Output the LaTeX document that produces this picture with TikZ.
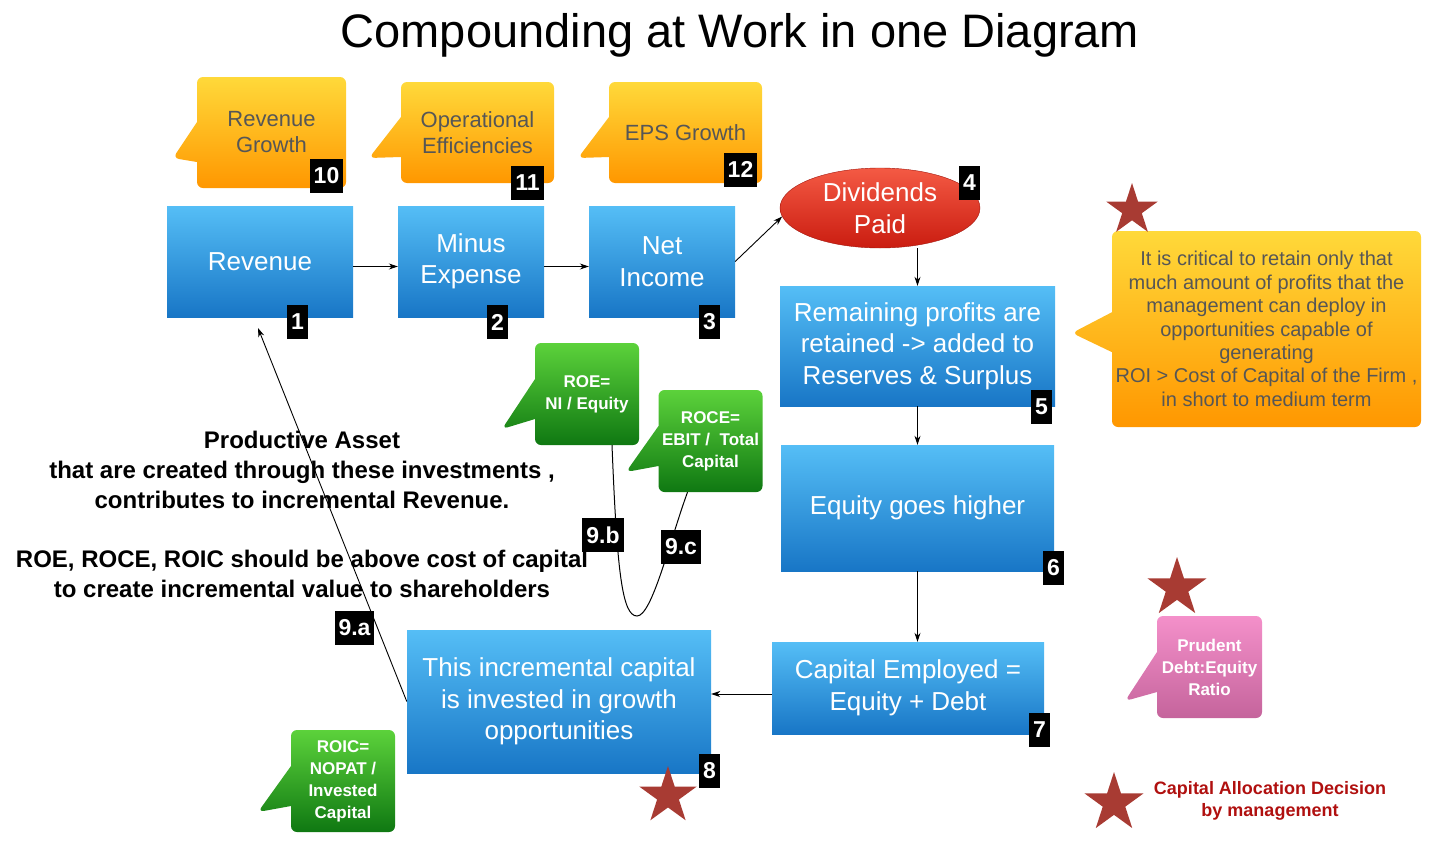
\documentclass[tikz,border=0pt]{standalone}
\usepackage{fontspec}
\setmainfont{Liberation Sans}
\usetikzlibrary{arrows.meta,shapes.geometric,shapes.callouts}
\definecolor{boxtop}{HTML}{55BEF6}
\definecolor{boxbot}{HTML}{1876C6}
\definecolor{calltop}{HTML}{FFD93A}
\definecolor{callbot}{HTML}{FF9700}
\definecolor{calltext}{HTML}{565656}
\definecolor{greentop}{HTML}{5CD23B}
\definecolor{greenbot}{HTML}{0F7812}
\definecolor{pinktop}{HTML}{F490CA}
\definecolor{pinkbot}{HTML}{C5649C}
\definecolor{divtop}{HTML}{F45A44}
\definecolor{divbot}{HTML}{CA1C10}
\definecolor{starred}{HTML}{A83B33}
\definecolor{legendred}{HTML}{B0100F}

\begin{document}
\begin{tikzpicture}[x=1pt, y=-1pt,
  box/.style={rectangle, top color=boxtop, bottom color=boxbot, text=white, inner sep=0pt, align=center, font=\fontsize{26}{31.5}\selectfont},
  badge/.style={rectangle, fill=black, text=white, inner xsep=4pt, inner ysep=0pt, minimum height=34pt, font=\bfseries\fontsize{23}{23}\selectfont},
  tip/.style={rectangle callout, rounded corners=6pt, inner sep=0pt, align=center, callout pointer width=40pt},
  note/.style={tip, top color=calltop, bottom color=callbot, text=calltext, font=\fontsize{22}{26}\selectfont},
  ratio/.style={tip, top color=greentop, bottom color=greenbot, text=white, minimum width=104pt, minimum height=102pt, font=\bfseries\fontsize{17}{22}\selectfont},
  mstar/.style={star, star points=5, star point ratio=2.618, fill=starred, inner sep=0pt},
  lab/.style={font=\bfseries\fontsize{24}{30}\selectfont, align=center},
  arr/.style={-{Stealth[length=9pt,width=6pt]}, line width=0.9pt}]
  \useasboundingbox (0,0) rectangle (1456,854);
  \node[font=\fontsize{47}{50}\selectfont, anchor=base] (title) at (740,47) {Compounding at Work in one Diagram};
  % the chain of boxes
  \node[box, minimum width=186pt, minimum height=111pt] (rev) at (260,261.5) {Revenue};
  \node[box, minimum width=146pt, minimum height=111pt] (exp) at (471,261.5) {Minus\\Expense};
  \node[box, minimum width=146pt, minimum height=111pt] (net) at (662,261.5) {Net\\Income};
  \node[ellipse, minimum width=200pt, minimum height=80pt, inner sep=0pt, top color=divtop, bottom color=divbot, draw=divbot!80!black, thin, text=white, align=center, font=\fontsize{26}{31.5}\selectfont] (div) at (880,208) {Dividends\\Paid};
  \node[box, minimum width=275pt, minimum height=120pt] (ret) at (917.5,346) {Remaining profits are\\retained -> added to\\Reserves \& Surplus};
  \node[box, minimum width=273pt, minimum height=126pt] (eqh) at (917.5,508) {Equity goes higher};
  \node[box, minimum width=272pt, minimum height=92pt] (cap) at (908,688) {Capital Employed =\\Equity + Debt};
  \node[box, minimum width=304pt, minimum height=143pt] (inc) at (559,701.5) {This incremental capital\\is invested in growth\\opportunities};
  \coordinate (revin) at (258,328);
  \draw[arr] ([yshift=-5pt]rev.east) -- ([yshift=-5pt]exp.west);
  \draw[arr] ([yshift=-5pt]exp.east) -- ([yshift=-5pt]net.west);
  \draw[arr] (net.east) -- (div.185);
  \draw[arr] (ret.north |- div.south) -- (ret.north);
  \draw[arr] (ret.south) -- (eqh.north);
  \draw[arr] (eqh.south) -- (eqh.south |- cap.north);
  \draw[arr] ([yshift=-6pt]cap.west) -- ([yshift=-6pt]cap.west -| inc.east);
  \draw[arr] (inc.west) -- (revin);
  % callouts
  \node[note, minimum width=149pt, minimum height=111pt, callout absolute pointer={(173,158)}] (crev) at (271.5,132.5) {Revenue\\Growth};
  \node[note, minimum width=153pt, minimum height=101pt, callout absolute pointer={(369,158)}] (cops) at (477.5,132.5) {Operational\\Efficiencies};
  \node[note, minimum width=153pt, minimum height=101pt, callout absolute pointer={(578,158)}] (ceps) at (685.5,132.5) {EPS Growth};
  \node[note, minimum width=309pt, minimum height=196pt, callout absolute pointer={(1072,333)}, font=\fontsize{20}{23.4}\selectfont] (croi) at (1266.5,329) {It is critical to retain only that\\much amount of profits that the\\management can deploy in\\opportunities capable of\\generating\\ROI > Cost of Capital of the Firm ,\\in short to medium term};
  \node[ratio, callout absolute pointer={(502,429)}] (roe) at (587,394) {ROE=\\NI / Equity};
  \node[ratio, callout absolute pointer={(626,472)}] (roce) at (710.5,441) {ROCE=\\EBIT /\ \ Total\\Capital};
  \node[ratio, callout absolute pointer={(258,812)}] (roic) at (343,781) {ROIC=\\NOPAT /\\Invested\\Capital};
  \node[tip, top color=pinktop, bottom color=pinkbot, text=white, minimum width=105pt, minimum height=102pt, font=\bfseries\fontsize{17}{22}\selectfont, callout absolute pointer={(1125,701)}] (debt) at (1209.5,667) {Prudent\\Debt:Equity\\Ratio};
  \coordinate (ubend) at (637,616);
  \draw[line width=1pt] ([xshift=25pt]roe.south) .. controls (617,570) and (622,616) .. (ubend) .. controls (652,616) and (670,540) .. ([xshift=-23pt]roce.south);
  % text block
  \node[lab] (note) at (302,514) {Productive Asset\\that are created through these investments ,\\contributes to incremental Revenue.\\[29pt]ROE, ROCE, ROIC should be above cost of capital\\to create incremental value to shareholders};
  % numbers
  \foreach \n/\xx/\yy in {1/297.5/322, 2/497.5/322, 3/709.5/322, 4/969.5/182.5, 5/1041.5/406.5, 6/1053.5/567.5, 7/1039.5/730, 8/709.5/771, 10/326.5/176, 11/527.5/182.5, 12/740.5/169.5}
    \node[badge] (b\n) at (\xx,\yy) {\n};
  \node[badge] (b9a) at (354.5,627.5) {9.a};
  \node[badge] (b9b) at (603,535) {9.b};
  \node[badge] (b9c) at (681,547) {9.c};
  % stars
  \foreach \i/\xx/\yy/\r in {1/1132/210/54pt, 2/1177/588/62pt, 3/668/796/60pt, 4/1114/803/62pt}
    \node[mstar, minimum size=\r] (s\i) at (\xx,\yy) {};
  \node[font=\bfseries\fontsize{18}{22}\selectfont, text=legendred, align=center] (legend) at (1270,801) {Capital Allocation Decision\\by management};
\end{tikzpicture}
\end{document}
